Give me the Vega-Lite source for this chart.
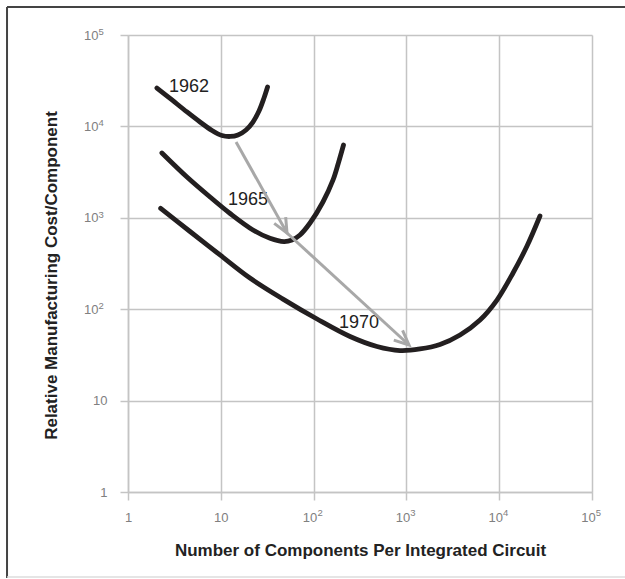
{
  "$schema": "https://vega.github.io/schema/vega-lite/v6.json",
  "width": 464,
  "height": 457,
  "autosize": "none",
  "padding": {"left": 128, "top": 35, "right": 33, "bottom": 87},
  "background": "white",
  "config": {
    "view": {"stroke": null},
    "font": "Liberation Sans",
    "axis": {
      "gridColor": "#c4c4c4",
      "gridWidth": 1.5,
      "gridOpacity": 1,
      "domainColor": "#c4c4c4",
      "domainWidth": 1.5,
      "tickColor": "#c4c4c4",
      "tickWidth": 1.5,
      "labelFont": "Liberation Sans",
      "labelColor": "#808080",
      "titleFont": "Liberation Sans",
      "titleFontSize": 17,
      "titleFontWeight": "bold",
      "titleColor": "#222222"
    }
  },
  "resolve": {"axis": {"x": "independent", "y": "independent"}},
  "datasets": {
    "curves": [
      {"year": "1962", "n": 2.05, "cost": 26300},
      {"year": "1962", "n": 2.98, "cost": 19450},
      {"year": "1962", "n": 4.32, "cost": 14380},
      {"year": "1962", "n": 5.97, "cost": 11170},
      {"year": "1962", "n": 8.04, "cost": 9020},
      {"year": "1962", "n": 10.3, "cost": 7950},
      {"year": "1962", "n": 12.6, "cost": 7760},
      {"year": "1962", "n": 15.3, "cost": 8050},
      {"year": "1962", "n": 18.7, "cost": 9140},
      {"year": "1962", "n": 22.2, "cost": 11170},
      {"year": "1962", "n": 25.8, "cost": 14730},
      {"year": "1962", "n": 29.2, "cost": 20450},
      {"year": "1962", "n": 31.9, "cost": 27000},
      {"year": "1965", "n": 2.32, "cost": 5120},
      {"year": "1965", "n": 4.32, "cost": 2794},
      {"year": "1965", "n": 7.65, "cost": 1690},
      {"year": "1965", "n": 12.6, "cost": 1114},
      {"year": "1965", "n": 22.2, "cost": 736},
      {"year": "1965", "n": 33.9, "cost": 597},
      {"year": "1965", "n": 48.0, "cost": 550},
      {"year": "1965", "n": 58.5, "cost": 572},
      {"year": "1965", "n": 71.3, "cost": 649},
      {"year": "1965", "n": 91.5, "cost": 877},
      {"year": "1965", "n": 126, "cost": 1489},
      {"year": "1965", "n": 162, "cost": 2593},
      {"year": "1965", "n": 185, "cost": 3980},
      {"year": "1965", "n": 210, "cost": 6260},
      {"year": "1970", "n": 2.25, "cost": 1270},
      {"year": "1970", "n": 4.66, "cost": 708},
      {"year": "1970", "n": 9.8, "cost": 392},
      {"year": "1970", "n": 20.6, "cost": 219},
      {"year": "1970", "n": 46.8, "cost": 129},
      {"year": "1970", "n": 109, "cost": 78.1},
      {"year": "1970", "n": 247, "cost": 50.3},
      {"year": "1970", "n": 482, "cost": 39.1},
      {"year": "1970", "n": 853, "cost": 35.3},
      {"year": "1970", "n": 1402, "cost": 36.7},
      {"year": "1970", "n": 2301, "cost": 41.1},
      {"year": "1970", "n": 3783, "cost": 52.2},
      {"year": "1970", "n": 6210, "cost": 76.2},
      {"year": "1970", "n": 9460, "cost": 126},
      {"year": "1970", "n": 14090, "cost": 249},
      {"year": "1970", "n": 19940, "cost": 491},
      {"year": "1970", "n": 27500, "cost": 1046}
    ],
    "arrows": [
      {"arrow": "a", "n": 14.6, "cost": 6750},
      {"arrow": "a", "n": 51.7, "cost": 682},
      {"arrow": "b", "n": 51.7, "cost": 682},
      {"arrow": "b", "n": 1067, "cost": 40.6}
    ],
    "labels": [
      {"year": "1962", "n": 4.54, "cost": 27200},
      {"year": "1965", "n": 19.6, "cost": 1566},
      {"year": "1970", "n": 308, "cost": 69.8}
    ],
    "frame": [
      {"side": "left", "x1": 0.0497, "x2": 0.0497, "y1": 202400, "y2": 0.1146},
      {"side": "top", "x1": 0.0497, "x2": 226800, "y1": 202400, "y2": 202400}
    ],
    "frameBottom": [
      {"side": "bottom", "x1": 0.0497, "x2": 226800, "y1": 0.1175, "y2": 0.1175}
    ]
  },
  "layer": [
    {
      "data": {"name": "curves"},
      "mark": {"type": "line", "color": "#231f20", "strokeWidth": 4.8, "strokeCap": "round", "interpolate": "catmull-rom"},
      "encoding": {
        "x": {
          "field": "n", "type": "quantitative",
          "scale": {"type": "log", "domain": [1, 100000]},
          "axis": {
            "orient": "bottom",
            "grid": true,
            "values": [1, 10, 100, 1000, 10000, 100000],
            "labelExpr": "datum.value < 5 ? '1' : '10'",
            "labelFontSize": 13,
            "labelFlush": false,
            "labelOverlap": false,
            "tickSize": 8,
            "labelPadding": 11,
            "labelOffset": {"condition": {"test": "datum.value > 50", "value": -4}, "value": 0},
            "titlePadding": 18
          },
          "title": "Number of Components Per Integrated Circuit"
        },
        "y": {
          "field": "cost", "type": "quantitative",
          "scale": {"type": "log", "domain": [1, 100000]},
          "axis": {
            "orient": "left",
            "grid": true,
            "values": [1, 10, 100, 1000, 10000, 100000],
            "labelExpr": "datum.value < 5 ? '1' : '10'",
            "labelFontSize": 13,
            "labelOverlap": false,
            "tickSize": 8,
            "labelPadding": {"condition": {"test": "datum.value > 50", "value": 22}, "value": 13},
            "titlePadding": 23,
            "titleY": 240
          },
          "title": "Relative Manufacturing Cost/Component"
        },
        "detail": {"field": "year"}
      }
    },
    {
      "data": {"name": "labels"},
      "mark": {"type": "text", "font": "Liberation Sans", "fontSize": 18, "color": "#222222", "align": "center", "baseline": "middle"},
      "encoding": {
        "x": {
          "field": "n", "type": "quantitative",
          "scale": {"type": "log", "domain": [1, 100000]},
          "axis": {
            "orient": "bottom",
            "grid": false,
            "domain": false,
            "ticks": false,
            "tickSize": 0,
            "values": [100, 1000, 10000, 100000],
            "labelExpr": "datum.value < 500 ? '2' : datum.value < 5000 ? '3' : datum.value < 50000 ? '4' : '5'",
            "labelFontSize": 9.5,
            "labelFlush": false,
            "labelOverlap": false,
            "labelPadding": 15.5,
            "labelOffset": 6,
            "title": null
          }
        },
        "y": {
          "field": "cost", "type": "quantitative",
          "scale": {"type": "log", "domain": [1, 100000]},
          "axis": {
            "orient": "left",
            "grid": false,
            "domain": false,
            "ticks": false,
            "tickSize": 0,
            "values": [100, 1000, 10000, 100000],
            "labelExpr": "datum.value < 500 ? '2' : datum.value < 5000 ? '3' : datum.value < 50000 ? '4' : '5'",
            "labelFontSize": 9.5,
            "labelOverlap": false,
            "labelAlign": "left",
            "labelPadding": 30,
            "labelOffset": -3.5,
            "title": null
          }
        },
        "text": {"field": "year"}
      }
    },
    {
      "data": {"name": "arrows"},
      "mark": {"type": "line", "color": "#a8a8a8", "strokeWidth": 3},
      "encoding": {
        "x": {"field": "n", "type": "quantitative", "scale": {"type": "log", "domain": [1, 100000]}, "axis": null},
        "y": {"field": "cost", "type": "quantitative", "scale": {"type": "log", "domain": [1, 100000]}, "axis": null},
        "detail": {"field": "arrow"}
      }
    },
    {
      "data": {"name": "arrows"},
      "transform": [{"filter": "datum.arrow == 'a' && datum.cost < 1000"}],
      "mark": {"type": "point", "shape": "M-0.45,1L0,0L0.45,1", "filled": false, "stroke": "#a8a8a8", "strokeWidth": 3, "size": 850, "angle": 151, "opacity": 1},
      "encoding": {
        "x": {"field": "n", "type": "quantitative", "scale": {"type": "log", "domain": [1, 100000]}, "axis": null},
        "y": {"field": "cost", "type": "quantitative", "scale": {"type": "log", "domain": [1, 100000]}, "axis": null}
      }
    },
    {
      "data": {"name": "arrows"},
      "transform": [{"filter": "datum.arrow == 'b' && datum.cost < 100"}],
      "mark": {"type": "point", "shape": "M-0.45,1L0,0L0.45,1", "filled": false, "stroke": "#a8a8a8", "strokeWidth": 3, "size": 850, "angle": 132, "opacity": 1},
      "encoding": {
        "x": {"field": "n", "type": "quantitative", "scale": {"type": "log", "domain": [1, 100000]}, "axis": null},
        "y": {"field": "cost", "type": "quantitative", "scale": {"type": "log", "domain": [1, 100000]}, "axis": null}
      }
    },
    {
      "data": {"name": "frame"},
      "mark": {"type": "rule", "color": "#444444", "strokeWidth": 2, "clip": false},
      "encoding": {
        "x": {"field": "x1", "type": "quantitative", "scale": {"type": "log", "domain": [1, 100000]}, "axis": null},
        "x2": {"field": "x2"},
        "y": {"field": "y1", "type": "quantitative", "scale": {"type": "log", "domain": [1, 100000]}, "axis": null},
        "y2": {"field": "y2"}
      }
    },
    {
      "data": {"name": "frameBottom"},
      "mark": {"type": "rule", "color": "#dddddd", "strokeWidth": 1.5, "clip": false},
      "encoding": {
        "x": {"field": "x1", "type": "quantitative", "scale": {"type": "log", "domain": [1, 100000]}, "axis": null},
        "x2": {"field": "x2"},
        "y": {"field": "y1", "type": "quantitative", "scale": {"type": "log", "domain": [1, 100000]}, "axis": null},
        "y2": {"field": "y2"}
      }
    }
  ]
}
